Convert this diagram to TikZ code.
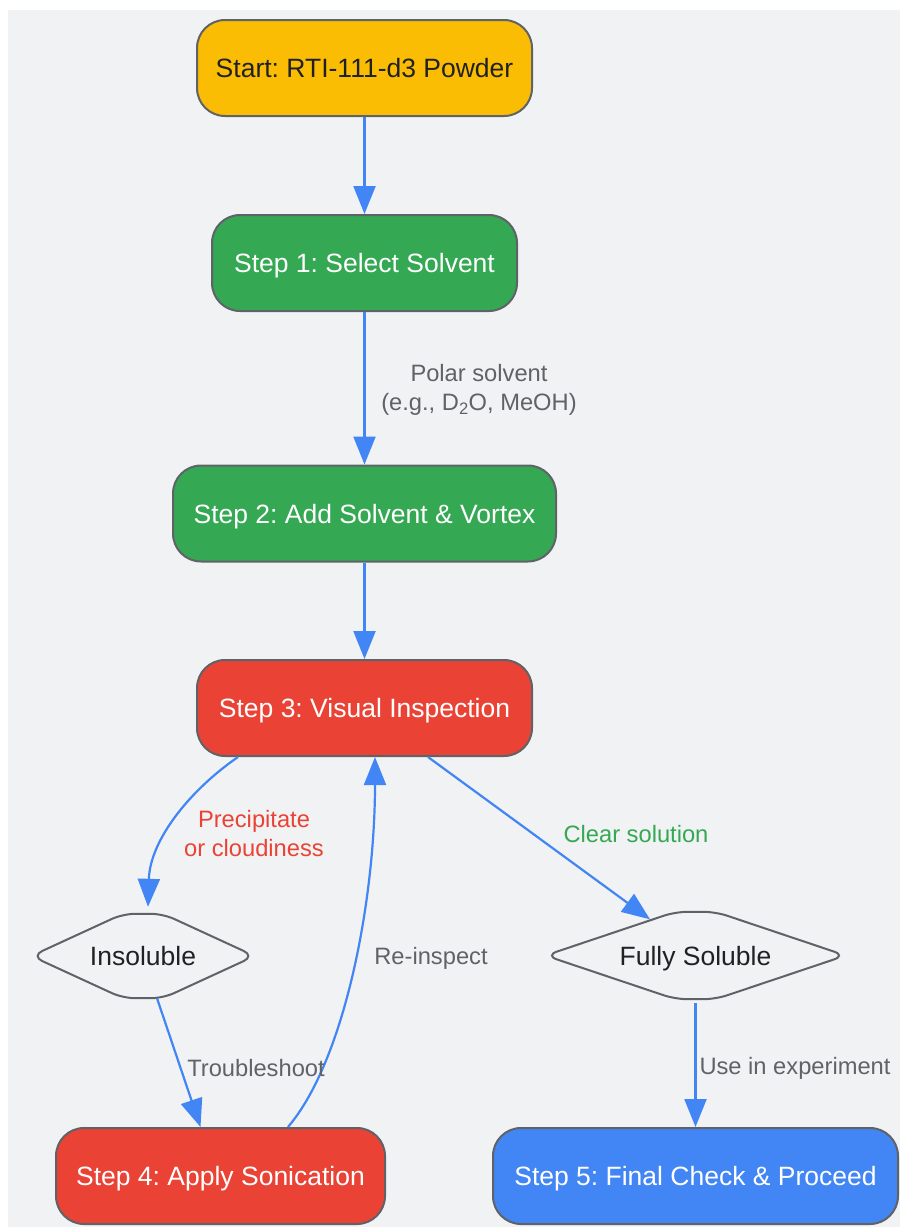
\documentclass[tikz,border=0pt]{standalone}
\usepackage{fontspec}
\setmainfont{Liberation Sans}
\usetikzlibrary{shapes.geometric,arrows.meta}
\definecolor{bg}{HTML}{F1F2F4}
\definecolor{bordergray}{HTML}{5F6368}
\definecolor{darktext}{HTML}{202124}
\definecolor{gyellow}{HTML}{FBBC04}
\definecolor{ggreen}{HTML}{34A853}
\definecolor{gred}{HTML}{EA4335}
\definecolor{gblue}{HTML}{4285F4}
\definecolor{lblgray}{HTML}{5F6368}
\frenchspacing
\newcommand{\nodefont}{\fontsize{26.5}{30}\selectfont\frenchspacing}
\newcommand{\lblfont}{\fontsize{23.7}{29}\selectfont\frenchspacing}
\tikzset{
  box/.style={draw=bordergray, line width=2pt, rounded corners=28pt, minimum height=96pt, inner sep=0pt, text height=19pt, text depth=0pt, font=\nodefont, text=white},
  dtext/.style={rectangle, inner sep=0pt, text height=19pt, text depth=0pt, font=\nodefont, text=darktext},
  diaborder/.style={draw=bordergray, line width=2pt, fill=bg, rounded corners=12pt},
  arr/.style={-{Triangle[length=28pt,width=22pt]}, line width=2.2pt, draw=gblue},
  lbl/.style={font=\lblfont, text=lblgray, align=center, inner sep=0pt}
}
\begin{document}
\begin{tikzpicture}[x=1pt,y=-1pt]
\useasboundingbox (0,0) rectangle (900,1227);
\fill[bg] (8,10) rectangle (900,1227);

\node[box, fill=gyellow, text=darktext, minimum width=335pt] (start) at (364.5,68) {Start: RTI-111-d3 Powder};
\node[box, fill=ggreen, minimum width=305pt] (s1) at (364.5,263) {Step 1: Select Solvent};
\node[box, fill=ggreen, minimum width=383pt] (s2) at (364.5,513.5) {Step 2: Add Solvent \& Vortex};
\node[box, fill=gred, minimum width=335pt] (s3) at (364.5,708) {Step 3: Visual Inspection};
\node[box, fill=gred, minimum width=329pt] (s4) at (220.5,1176) {Step 4: Apply Sonication};
\node[box, fill=gblue, minimum width=405pt] (s5) at (695.5,1176) {Step 5: Final Check \& Proceed};

\node[dtext, minimum width=223pt, minimum height=84pt] (ins) at (143,956) {};
\draw[diaborder] (ins.west) -- ([xshift=-20pt]ins.north) -- ([xshift=20pt]ins.north) -- (ins.east) -- ([xshift=20pt]ins.south) -- ([xshift=-20pt]ins.south) -- cycle;
\node[dtext] (inst) at (ins.center) {Insoluble};

\node[dtext, minimum width=300pt, minimum height=87pt] (fs) at (695.5,955.5) {};
\draw[diaborder] (fs.west) -- ([xshift=-20pt]fs.north) -- ([xshift=20pt]fs.north) -- (fs.east) -- ([xshift=20pt]fs.south) -- ([xshift=-20pt]fs.south) -- cycle;
\node[dtext] (fst) at (fs.center) {Fully Soluble};

\draw[arr] (start) -- (s1);
\draw[arr] (s1) -- (s2);
\draw[arr] (s2) -- (s3);
\draw[arr] ([xshift=-126.5pt]s3.south) .. controls (190,790) and (150,840) .. ([xshift=5pt,yshift=7pt]ins.north);
\draw[arr] ([xshift=63.5pt]s3.south) -- ([xshift=-45.5pt,yshift=-7.5pt]fs.north);
\draw[arr] ([xshift=14pt]ins.south) -- ([xshift=-20pt]s4.north);
\draw[arr] ([xshift=67.5pt]s4.north) .. controls (345,1060) and (375,900) .. ([xshift=10.5pt]s3.south);
\draw[arr] ([yshift=-4pt]fs.south) -- (s5.north);

\node[lbl] (l1) at (479,390) {Polar solvent\\(e.g., D\textsubscript{2}O, MeOH)};
\node[lbl, text=gred] (l2) at (254,834) {Precipitate\\or cloudiness};
\node[lbl, text=ggreen] (l3) at (636,834) {Clear solution};
\node[lbl] (l4) at (431,958) {Re-inspect};
\node[lbl] (l5) at (256,1068) {Troubleshoot};
\node[lbl] (l6) at (795,1068) {Use in experiment};
\end{tikzpicture}
\end{document}
